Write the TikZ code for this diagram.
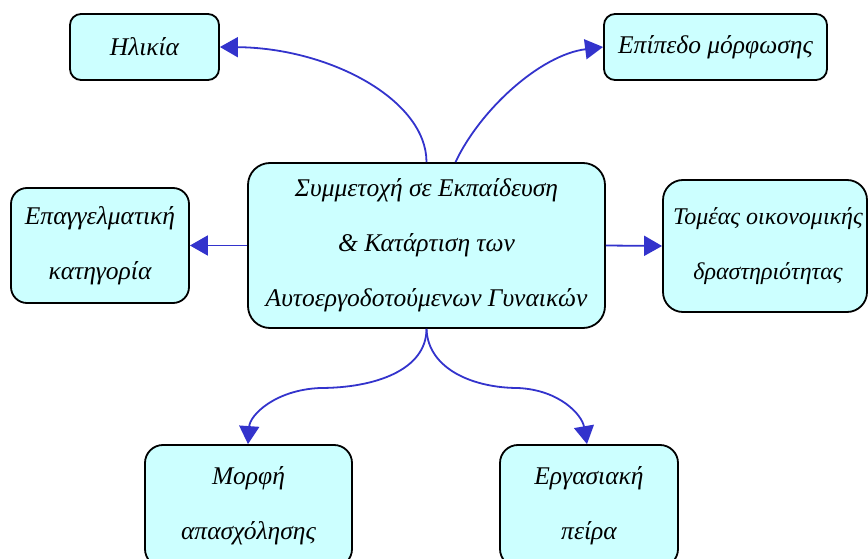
\documentclass[tikz,border=0pt]{standalone}
\usepackage{fontspec}
\setmainfont{Liberation Serif}
\usetikzlibrary{arrows.meta}
\definecolor{boxfill}{RGB}{204,255,255}
\definecolor{arrowblue}{RGB}{51,51,204}
\tikzset{
  box/.style={draw=black, line width=1.8pt, fill=boxfill, inner sep=0pt, align=center,
    font=\itshape\fontsize{25.5}{55}\selectfont, text=black},
  conn/.style={draw=arrowblue, line width=1.8pt, -{Triangle[length=18pt,width=20pt]}, arrowblue}
}
\begin{document}
\begin{tikzpicture}[x=1pt,y=-1pt]
\useasboundingbox (0,0) rectangle (868,559);
\node[box, minimum width=357pt, minimum height=165pt, rounded corners=22pt] (c) at (426.5,245.5)
  {Συμμετοχή σε Εκπαίδευση\\ \& Κατάρτιση των\\ Αυτοεργοδοτούμενων Γυναικών};
\node[box, minimum width=149pt, minimum height=66pt, rounded corners=11pt] (age) at (144.5,47) {Ηλικία};
\node[box, minimum width=223pt, minimum height=66pt, rounded corners=11pt] (edu) at (715.5,47) {Επίπεδο μόρφωσης};
\node[box, minimum width=178pt, minimum height=115pt, rounded corners=16pt] (occ) at (100,245.5) {Επαγγελματική\\ κατηγορία};
\node[box, minimum width=204pt, minimum height=132pt, rounded corners=20pt,
  font=\itshape\fontsize{24}{55}\selectfont] (sec) at (765,246) {\hspace*{6pt}Τομέας οικονομικής\\ \hspace*{6pt}δραστηριότητας};
\node[box, minimum width=207pt, minimum height=122pt, rounded corners=18pt] (form) at (248.5,506) {Μορφή\\ απασχόλησης};
\node[box, minimum width=178pt, minimum height=122pt, rounded corners=18pt] (exp) at (589,506) {Εργασιακή\\ πείρα};
\draw[conn] (c.north) .. controls (426.5,100) and (330,48) .. (age.east);
\draw[conn] ([xshift=29pt]c.north) .. controls (480,110) and (540,55) .. (edu.west);
\draw[conn] (c.west) -- (occ.east);
\draw[conn] (c.east) -- (sec.west);
\coordinate (bl) at (320,388);
\coordinate (br) at (518,388);
\draw[conn] (c.south) .. controls (426.5,370) and (375,388) .. (bl) .. controls (275,390) and (250,415) .. ([xshift=-0.5pt]form.north);
\draw[conn] (c.south) .. controls (428,370) and (475,388) .. (br) .. controls (560,390) and (582,415) .. ([xshift=-2pt]exp.north);
\end{tikzpicture}
\end{document}
